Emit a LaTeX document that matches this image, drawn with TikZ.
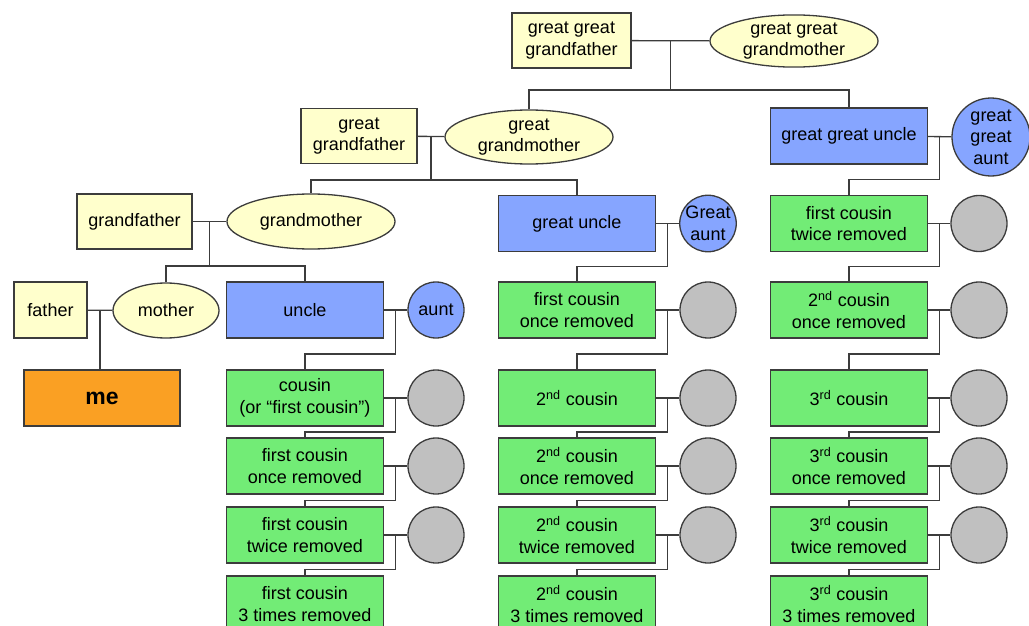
\documentclass[tikz,border=0pt]{standalone}
\usepackage{fontspec}
\setmainfont{Liberation Sans}
\usetikzlibrary{calc,shapes.geometric}

\definecolor{creamfill}{RGB}{255,255,204}
\definecolor{bluefill}{RGB}{134,165,255}
\definecolor{greenfill}{RGB}{114,236,118}
\definecolor{greyfill}{RGB}{192,192,192}
\definecolor{orangefill}{RGB}{250,160,35}
\definecolor{edgecol}{RGB}{60,60,60}

\begin{document}
\begin{tikzpicture}[
    x=1pt, y=-1pt,
    every node/.style={font=\fontsize{18}{21.5}\selectfont, align=center, inner sep=0pt, line width=1.3pt, draw=edgecol},
    parentbox/.style={rectangle, fill=creamfill, minimum height=55pt},
    parentoval/.style={ellipse, fill=creamfill, minimum width=168pt, minimum height=54pt},
    relbox/.style={rectangle, fill=bluefill, minimum width=157pt, minimum height=56pt},
    cousinbox/.style={rectangle, fill=greenfill, minimum width=157pt, minimum height=56pt},
    spouse/.style={circle, fill=greyfill, minimum size=56pt},
    relspouse/.style={circle, fill=bluefill, minimum size=56pt},
    connector/.style={draw=edgecol, line width=1.3pt}
]
    \useasboundingbox (0,0) rectangle (1029,626);

    % direct line
    \node[parentbox, minimum width=119pt] (ggf) at (571.5,40.5) {great great\\grandfather};
    \node[parentoval, minimum height=52pt] (ggm) at (794,41) {great great\\grandmother};
    \node[parentbox, minimum width=116pt] (gf) at (359,136) {great\\grandfather};
    \node[parentoval] (ggmo) at (529,137) {great\\grandmother};
    \node[parentbox, minimum width=115pt] (gpa) at (134.5,221.5) {grandfather};
    \node[parentoval, minimum height=55pt] (gma) at (311,221.5) {grandmother};
    \node[parentbox, minimum width=73pt, minimum height=56pt] (dad) at (50.5,310) {father};
    \node[parentoval, minimum width=106pt, minimum height=55pt] (mom) at (166,310.5) {mother};
    \node[rectangle, fill=orangefill, minimum width=156pt, minimum height=56pt, font=\fontsize{23}{27}\selectfont\bfseries] (me) at (102,398) {me};

    % uncle column
    \node[relbox] (cA0) at (305,310) {uncle};
    \node[relspouse] (sA0) at (436,310) {aunt};
    \node[cousinbox] (cA1) at (305,398) {cousin\\(or “first cousin”)};
    \node[spouse] (sA1) at (436,398) {};
    \node[cousinbox] (cA2) at (305,466) {first cousin\\once removed};
    \node[spouse] (sA2) at (436,466) {};
    \node[cousinbox] (cA3) at (305,535) {first cousin\\twice removed};
    \node[spouse] (sA3) at (436,535) {};
    \node[cousinbox] (cA4) at (305,604) {first cousin\\3 times removed};

    % great uncle column
    \node[relbox] (cB0) at (577,223.5) {great uncle};
    \node[relspouse] (sB0) at (708,223.5) {Great\\aunt};
    \node[cousinbox] (cB1) at (577,310) {first cousin\\once removed};
    \node[spouse] (sB1) at (708,310) {};
    \node[cousinbox] (cB2) at (577,398) {2\textsuperscript{nd} cousin};
    \node[spouse] (sB2) at (708,398) {};
    \node[cousinbox] (cB3) at (577,466) {2\textsuperscript{nd} cousin\\once removed};
    \node[spouse] (sB3) at (708,466) {};
    \node[cousinbox] (cB4) at (577,535) {2\textsuperscript{nd} cousin\\twice removed};
    \node[spouse] (sB4) at (708,535) {};
    \node[cousinbox] (cB5) at (577,604) {2\textsuperscript{nd} cousin\\3 times removed};

    % great great uncle column
    \node[relbox] (cC0) at (849,136) {great great uncle};
    \node[relspouse, minimum size=78pt] (sC0) at (991,137) {great\\great\\aunt};
    \node[cousinbox] (cC1) at (849,223.5) {first cousin\\twice removed};
    \node[spouse] (sC1) at (979,223.5) {};
    \node[cousinbox] (cC2) at (849,310) {2\textsuperscript{nd} cousin\\once removed};
    \node[spouse] (sC2) at (979,310) {};
    \node[cousinbox] (cC3) at (849,398) {3\textsuperscript{rd} cousin};
    \node[spouse] (sC3) at (979,398) {};
    \node[cousinbox] (cC4) at (849,466) {3\textsuperscript{rd} cousin\\once removed};
    \node[spouse] (sC4) at (979,466) {};
    \node[cousinbox] (cC5) at (849,535) {3\textsuperscript{rd} cousin\\twice removed};
    \node[spouse] (sC5) at (979,535) {};
    \node[cousinbox] (cC6) at (849,604) {3\textsuperscript{rd} cousin\\3 times removed};

    % couples and their children
    \draw[connector] (ggf) -- (ggm);
    \coordinate (j1) at ($(ggf.east)!0.5!(ggm.west)$);
    \draw[connector] (j1) -- (j1 |- 0,90);
    \draw[connector] (ggmo.north) -- (ggmo.north |- 0,90) -| (cC0.north);

    \draw[connector] (gf) -- (ggmo);
    \coordinate (j2) at ($(gf.east)!0.5!(ggmo.west)$);
    \draw[connector] (j2) -- (j2 |- 0,180);
    \draw[connector] (gma.north) -- (gma.north |- 0,180) -| (cB0.north);

    \draw[connector] (gpa) -- (gma);
    \coordinate (j3) at ($(gpa.east)!0.5!(gma.west)$);
    \draw[connector] (j3) -- (j3 |- 0,266);
    \draw[connector] (mom.north) -- (mom.north |- 0,266) -| (cA0.north);

    \draw[connector] (dad) -- (mom);
    \coordinate (j4) at ($(dad.east)!0.5!(mom.west)$);
    \draw[connector] (j4) -- (j4 |- me.north);

    % cousin chains
    \foreach \col/\last in {A/3, B/4, C/5} {
        \foreach \i in {0,...,\last} {
            \pgfmathtruncatemacro{\j}{\i+1}
            \draw[connector] (c\col\i) -- (s\col\i);
            \coordinate (k\col\i) at ($(c\col\i.east)!0.5!(s\col\i.west)$);
            \draw[connector] (k\col\i) |- ($(c\col\i.south)!0.5!(c\col\j.north)$) -- (c\col\j.north);
        }
    }
\end{tikzpicture}
\end{document}
